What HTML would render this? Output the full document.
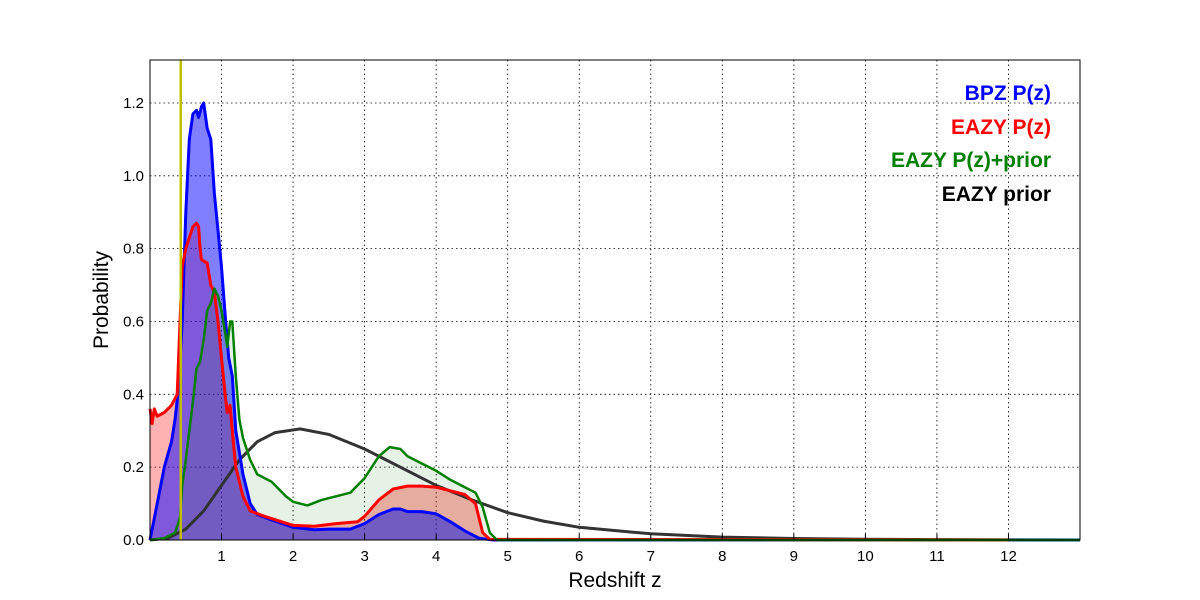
<!DOCTYPE html>
<html><head><meta charset="utf-8"><style>
body{margin:0;background:#fff}
svg{display:block;font-family:"Liberation Sans","DejaVu Sans",sans-serif}
</style></head><body>
<svg id="chart" width="1200" height="600">
<g id="grid"></g>
<g id="fills"></g>
<g id="lines"></g>
<rect x="150" y="60" width="930" height="480" fill="none" stroke="#000" stroke-width="1"/>
<g id="ticks"></g>
<text x="615" y="587" font-size="21" text-anchor="middle">Redshift z</text>
<text transform="translate(108,300) rotate(-90)" font-size="21" text-anchor="middle">Probability</text>
<g font-size="21" font-weight="bold" text-anchor="end">
<text x="1051" y="100" fill="#0000ff">BPZ P(z)</text>
<text x="1051" y="134" fill="#ff0000">EAZY P(z)</text>
<text x="1051" y="167" fill="#008000">EAZY P(z)+prior</text>
<text x="1051" y="201" fill="#000">EAZY prior</text>
</g>
</svg>
<script>
const xTicks=[1,2,3,4,5,6,7,8,9,10,11,12];
const yTicks=[0,0.2,0.4,0.6,0.8,1.0,1.2];
const zMarker=0.43;
const bpzZ=[0,0.1,0.2,0.3,0.35,0.4,0.45,0.5,0.55,0.6,0.65,0.68,0.72,0.75,0.8,0.85,0.9,0.95,1.0,1.05,1.1,1.15,1.2,1.3,1.4,1.5,1.7,2.0,2.3,2.5,2.8,3.0,3.2,3.4,3.5,3.6,3.8,4.0,4.2,4.4,4.6,4.8,13];
const bpzP=[0,0.1,0.2,0.27,0.33,0.42,0.6,0.9,1.1,1.17,1.18,1.16,1.19,1.2,1.13,1.1,0.95,0.85,0.75,0.62,0.5,0.45,0.3,0.18,0.1,0.07,0.055,0.035,0.028,0.03,0.03,0.045,0.07,0.085,0.085,0.078,0.078,0.072,0.05,0.025,0.005,0,0];
const eazyZ=[0,0.03,0.06,0.1,0.2,0.3,0.38,0.42,0.45,0.5,0.55,0.6,0.65,0.68,0.7,0.72,0.8,0.85,0.9,0.95,1.0,1.05,1.08,1.12,1.15,1.2,1.3,1.4,1.6,2.0,2.3,2.6,2.9,3.0,3.2,3.4,3.6,3.8,4.0,4.2,4.4,4.55,4.65,4.75,12];
const eazyP=[0.36,0.32,0.36,0.34,0.35,0.37,0.4,0.6,0.75,0.8,0.83,0.86,0.87,0.86,0.8,0.77,0.76,0.7,0.68,0.6,0.5,0.4,0.35,0.37,0.3,0.2,0.12,0.08,0.065,0.04,0.038,0.045,0.05,0.065,0.11,0.14,0.148,0.148,0.145,0.135,0.125,0.1,0.02,0.002,0];
const combZ=[0,0.2,0.35,0.42,0.45,0.5,0.55,0.6,0.65,0.7,0.75,0.8,0.85,0.9,0.95,1.0,1.05,1.08,1.12,1.15,1.2,1.25,1.3,1.4,1.5,1.7,1.9,2.0,2.2,2.4,2.6,2.8,3.0,3.2,3.35,3.5,3.6,3.75,4.0,4.2,4.4,4.55,4.65,4.75,4.85,13];
const combP=[0,0.005,0.02,0.06,0.15,0.22,0.3,0.38,0.47,0.49,0.55,0.63,0.65,0.69,0.67,0.63,0.57,0.53,0.6,0.6,0.45,0.33,0.28,0.22,0.18,0.16,0.12,0.105,0.095,0.11,0.12,0.13,0.17,0.23,0.255,0.25,0.23,0.215,0.19,0.165,0.145,0.13,0.09,0.02,0,0];
const priorZ=[0,0.25,0.5,0.75,1.0,1.25,1.5,1.75,2.1,2.5,3.0,3.5,4.0,4.5,5.0,5.5,6.0,7.0,8.0,9.0,10,11,13];
const priorP=[0,0.005,0.03,0.08,0.15,0.22,0.27,0.295,0.305,0.29,0.25,0.2,0.15,0.11,0.075,0.052,0.035,0.017,0.008,0.004,0.002,0.001,0];
const X0=150,X1=1080,Y0=540,Y1=60,XMAX=13,YMAX=1.318;
const sx=z=>X0+z/XMAX*(X1-X0);
const sy=p=>Y0-p/YMAX*(Y0-Y1);
const NS='http://www.w3.org/2000/svg';
function mk(tag,attrs,parent){const e=document.createElementNS(NS,tag);for(const k in attrs)e.setAttribute(k,attrs[k]);parent.appendChild(e);return e;}
const grid=document.getElementById('grid'),ticks=document.getElementById('ticks'),fills=document.getElementById('fills'),lines=document.getElementById('lines');
xTicks.forEach(t=>{
const l=mk('line',{x1:sx(t),x2:sx(t),y1:Y1,y2:Y0,stroke:'#000','stroke-dasharray':'1.5,3','stroke-width':0.8},grid);


const tk=mk('line',{x1:sx(t),x2:sx(t),y1:Y0,y2:Y0-6,stroke:'#000'},ticks);


const tx=mk('text',{x:sx(t),y:Y0+21,'font-size':15,'text-anchor':'middle'},ticks);tx.textContent=t;


});
yTicks.forEach(t=>{
if(t>0){const l=mk('line',{x1:X0,x2:X1,y1:sy(t),y2:sy(t),stroke:'#000','stroke-dasharray':'1.5,3','stroke-width':0.8},grid);

}
const tx=mk('text',{x:X0-6,y:sy(t)+5,'font-size':15,'text-anchor':'end'},ticks);tx.textContent=t.toFixed(1);


});
function pts(zs,ps){return zs.map((z,i)=>sx(z).toFixed(1)+','+sy(ps[i]).toFixed(1)).join(' ');}
function area(zs,ps){return 'M'+sx(zs[0])+','+Y0+' L'+pts(zs,ps)+' L'+sx(zs[zs.length-1])+','+Y0+' Z';}
const f1=mk('path',{d:area(eazyZ,eazyP),fill:'rgba(255,0,0,0.3)'},fills);


const f2=mk('path',{d:area(bpzZ,bpzP),fill:'rgba(0,0,255,0.5)'},fills);


const f3=mk('path',{d:area(combZ,combP),fill:'rgba(0,128,0,0.1)'},fills);


const lp=mk('polyline',{points:pts(priorZ,priorP),fill:'none',stroke:'#333','stroke-width':3},lines);


const lb=mk('polyline',{points:pts(bpzZ,bpzP),fill:'none',stroke:'#0000ff','stroke-width':3,'stroke-linejoin':'round'},lines);


const lr=mk('polyline',{points:pts(eazyZ,eazyP),fill:'none',stroke:'#ff0000','stroke-width':3,'stroke-linejoin':'round'},lines);


const lg=mk('polyline',{points:pts(combZ,combP),fill:'none',stroke:'#008000','stroke-width':2.5,'stroke-linejoin':'round'},lines);


const vm=mk('line',{x1:sx(zMarker),x2:sx(zMarker),y1:Y1,y2:Y0,stroke:'#bfbf00','stroke-width':2.5},lines);


</script>
</body></html>
